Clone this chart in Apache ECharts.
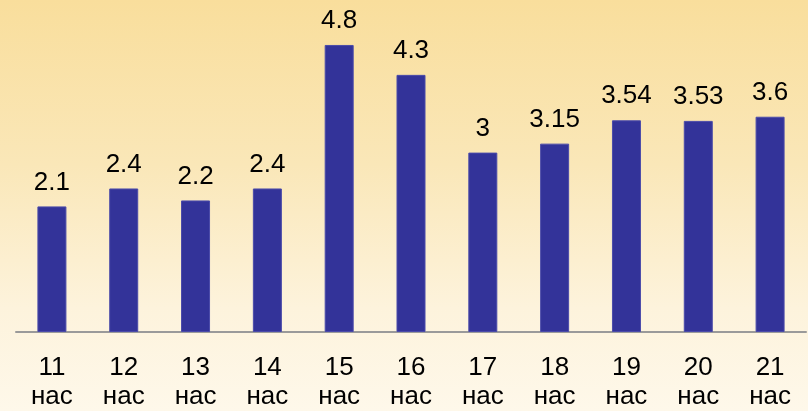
<!DOCTYPE html>
<html><head><meta charset="utf-8">
<script src="https://cdn.jsdelivr.net/npm/echarts@6/dist/echarts.min.js"></script>
<style>html,body{margin:0;padding:0;}#c{width:808px;height:411px;background:linear-gradient(to bottom,#F9DE9C 0%,#FAE7B8 40%,#FDF3DC 75%,#FEF8EA 100%);}</style>
</head><body><div id="c"></div>
<script>
const categories = ['11\nнас','12\nнас','13\nнас','14\nнас','15\nнас','16\nнас','17\nнас','18\nнас','19\nнас','20\nнас','21\nнас'];
const values = [2.1, 2.4, 2.2, 2.4, 4.8, 4.3, 3, 3.15, 3.54, 3.53, 3.6];
const chart = echarts.init(document.getElementById('c'));
chart.setOption({
  backgroundColor: 'transparent',
  animation: false,
  grid: {left: 16, right: 2, top: 33, bottom: 78},
  xAxis: {
    type: 'category', data: categories,
    axisLine: {lineStyle: {color: '#9a9a9a', width: 2}},
    axisTick: {show: false},
    axisLabel: {color: '#000', fontSize: 26, fontFamily: 'Liberation Sans, Arial', lineHeight: 29, margin: 21}
  },
  yAxis: {type: 'value', min: 0, max: 5, show: false, splitLine: {show: false}},
  series: [{
    type: 'bar', data: values, barWidth: 29,
    itemStyle: {color: '#333399', borderColor: '#4b4baa', borderWidth: 1},
    label: {show: true, position: 'top', distance: 11, color: '#000', fontSize: 26, fontFamily: 'Liberation Sans, Arial'}
  }]
});
</script></body></html>
